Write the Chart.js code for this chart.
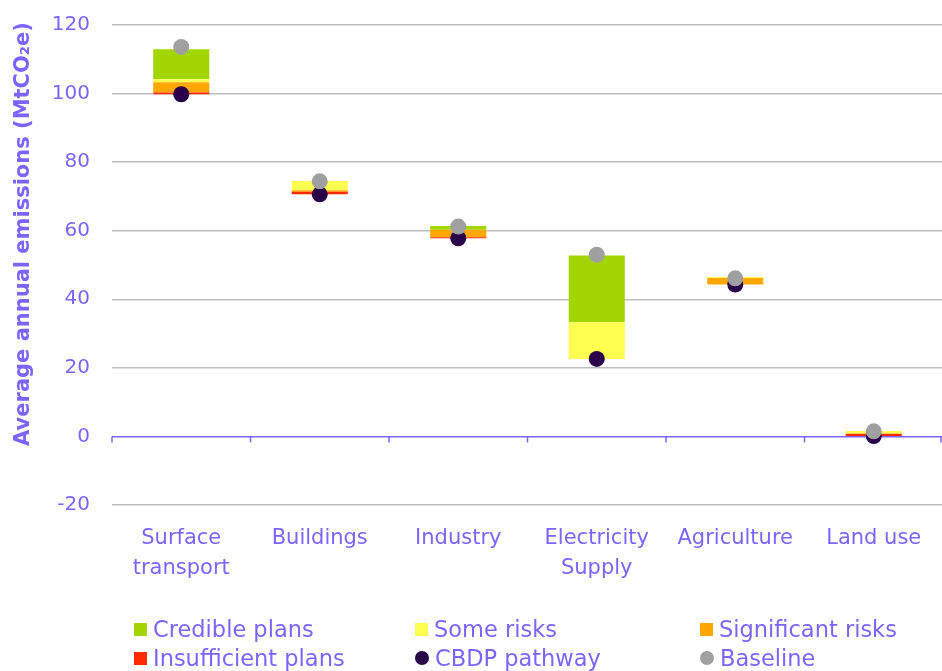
<!DOCTYPE html>
<html><head><meta charset="utf-8">
<script src="https://cdn.jsdelivr.net/npm/chart.js@4"></script>
<style>
html,body{margin:0;padding:0;background:#fff;overflow:hidden}
#wrap{position:relative;width:942px;height:671px;overflow:hidden}
#c{display:block}
.lg{position:absolute;font-family:'DejaVu Sans',sans-serif;font-size:22.5px;color:#7f63ff;display:flex;align-items:center;white-space:nowrap;transform:translateY(-50%)}
.sw{width:13px;height:13px;margin-right:6px;flex:none}
.dot{border-radius:50%;width:14px;height:14px}
</style></head>
<body><div id="wrap"><canvas id="c" width="951" height="671"></canvas></div>
<script>
const categories = [['Surface','transport'],'Buildings','Industry',['Electricity','Supply'],'Agriculture','Land use'];
const cbdpPathway   = [99.8, 70.6, 57.8, 22.6, 44.3, 0.1];
const baseline      = [113.6, 74.4, 61.2, 53.0, 46.1, 1.5];
const insufficient  = [0.5, 0.8, 0.3, 0, 0, 0.7];
const significant   = [3.0, 0.4, 2.2, 0, 1.9, 0];
const someRisks     = [0.9, 2.7, 0, 10.7, 0.3, 0.8];
const credible      = [8.7, 0, 1.1, 19.5, 0, 0];
const yTicks = [-20, 0, 20, 40, 60, 80, 100, 120];
const yTitle = 'Average annual emissions (MtCO₂e)';

const PURPLE = '#7f63ff';
const colors = {credible:'#a3d600', some:'#ffff4f', significant:'#ffa600', insufficient:'#ff2a00', cbdp:'#2a004a', base:'#a0a0a0'};

// floating ranges stacked upward from the CBDP pathway
const segs = [insufficient, significant, someRisks, credible];
const ranges = segs.map(() => []);
cbdpPathway.forEach((b, i) => {
  let lo = b;
  segs.forEach((s, k) => { ranges[k].push([lo, lo + s[i]]); lo += s[i]; });
});

const barCommon = {type:'bar', barPercentage:0.405, categoryPercentage:1, borderWidth:0, order:3};
const datasets = [
  {...barCommon, label:'Insufficient plans', data:ranges[0], backgroundColor:colors.insufficient},
  {...barCommon, label:'Significant risks', data:ranges[1], backgroundColor:colors.significant},
  {...barCommon, label:'Some risks', data:ranges[2], backgroundColor:colors.some},
  {...barCommon, label:'Credible plans', data:ranges[3], backgroundColor:colors.credible},
  {type:'line', label:'CBDP pathway', data:cbdpPathway, showLine:false, pointRadius:8, pointHoverRadius:8, pointBorderWidth:0, pointBackgroundColor:colors.cbdp, borderColor:colors.cbdp, order:1},
  {type:'line', label:'Baseline', data:baseline, showLine:false, pointRadius:8, pointHoverRadius:8, pointBorderWidth:0, pointBackgroundColor:colors.base, borderColor:colors.base, order:0}
];

const extras = {
  id:'extras',
  beforeDatasetsDraw(chart){
    const {ctx, chartArea, scales:{y}} = chart;
    const y0 = y.getPixelForValue(0);
    const n = categories.length;
    const w = (chartArea.right - chartArea.left) / n;
    ctx.save();
    ctx.strokeStyle = PURPLE; ctx.lineWidth = 1.5;
    ctx.beginPath();
    for (let i = 0; i <= n; i++) {
      const px = Math.min(chartArea.left + i * w, 941);
      ctx.moveTo(px, y0); ctx.lineTo(px, y0 + 6);
    }
    ctx.stroke();
    ctx.restore();
  },
  afterDraw(chart){
    const ctx = chart.ctx;
    ctx.save();
    ctx.translate(24, 234);
    ctx.rotate(-Math.PI / 2);
    ctx.fillStyle = PURPLE;
    ctx.font = 'bold 21px "DejaVu Sans"';
    ctx.textAlign = 'center'; ctx.textBaseline = 'middle';
    ctx.fillText(yTitle, 0, 0);
    ctx.restore();
  }
};

new Chart(document.getElementById('c'), {
  type:'bar',
  data:{labels:categories, datasets},
  plugins:[extras],
  options:{
    responsive:false, animation:false,
    layout:{padding:{top:25, right:0, left:0, bottom:0}},
    plugins:{legend:{display:false}, tooltip:{enabled:false}},
    scales:{
      x:{stacked:true, grid:{display:false}, border:{display:false},
         ticks:{color:PURPLE, font:{family:'DejaVu Sans', size:21, lineHeight:1.4}, padding:11, maxRotation:0, autoSkip:false},
         afterFit(s){ s.height = 166; s.paddingLeft = 0; s.paddingRight = 0; }},
      y:{stacked:false, min:-20, max:120, afterBuildTicks(s){ s.ticks = yTicks.map(v => ({value:v})); },
         grid:{drawTicks:false, color:c => c.tick && c.tick.value === 0 ? PURPLE : '#bdbdbd', lineWidth:1.5},
         border:{display:false},
         ticks:{color:PURPLE, font:{family:'DejaVu Sans', size:20}, padding:22},
         afterFit(s){ s.width = 112; s.paddingTop = 0; s.paddingBottom = 0; }}
    }
  }
});

// HTML legend (3 columns x 2 rows)
const legendItems = [
  ['Credible plans', colors.credible, false], ['Some risks', colors.some, false], ['Significant risks', colors.significant, false],
  ['Insufficient plans', colors.insufficient, false], ['CBDP pathway', colors.cbdp, true], ['Baseline', colors.base, true]
];
const colX = [134, 415, 700], rowY = [629, 658];
const wrap = document.getElementById('wrap');
legendItems.forEach(([t, col, round], i) => {
  const d = document.createElement('div');
  d.className = 'lg';
  d.style.left = colX[i % 3] + 'px';
  d.style.top = rowY[Math.floor(i / 3)] + 'px';
  const sw = document.createElement('span');
  sw.className = 'sw' + (round ? ' dot' : '');
  sw.style.background = col;
  d.appendChild(sw);
  d.appendChild(document.createTextNode(t));
  wrap.appendChild(d);
});
</script></body></html>
